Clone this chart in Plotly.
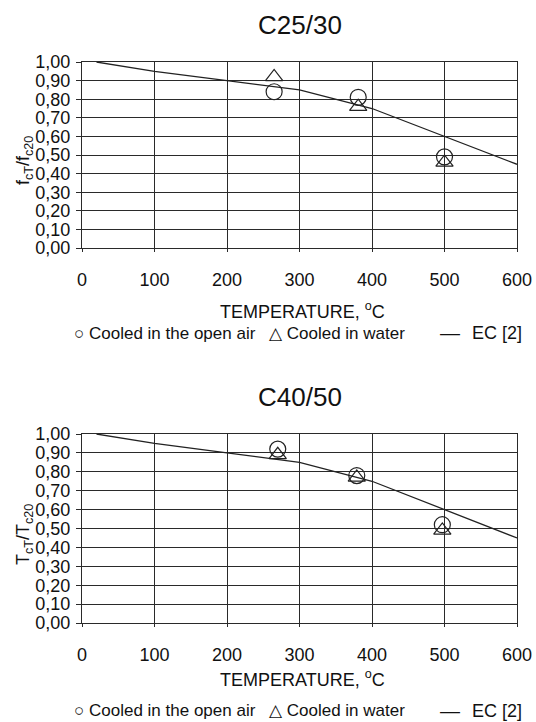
import plotly.graph_objects as go

# ---- data ----
ec_temp = [20, 100, 200, 300, 400, 500, 600]
ec_ratio = [1.00, 0.95, 0.90, 0.85, 0.75, 0.60, 0.45]

c25_air_temp = [265, 381, 500]
c25_air_ratio = [0.84, 0.81, 0.49]
c25_water_temp = [265, 381, 500]
c25_water_ratio = [0.92, 0.76, 0.46]

c40_air_temp = [270, 379, 497]
c40_air_ratio = [0.92, 0.78, 0.52]
c40_water_temp = [270, 379, 497]
c40_water_ratio = [0.89, 0.77, 0.49]

x_ticks = [0, 100, 200, 300, 400, 500, 600]
y_ticks = [0.0, 0.1, 0.2, 0.3, 0.4, 0.5, 0.6, 0.7, 0.8, 0.9, 1.0]

titles = ["C25/30", "C40/50"]
y_titles = ["f<sub>cT</sub>/f<sub>c20</sub>", "T<sub>cT</sub>/T<sub>c20</sub>"]
x_title = "TEMPERATURE, <sup>o</sup>C"
legend_items = ["○ Cooled in the open air", "△ Cooled in water", "—", "EC [2]"]

# ---- geometry (pixels) ----
W, H = 536, 722
L, R, T, B = 82, 517, 62, 623
FONT = "Liberation Sans, Arial, sans-serif"

def px(xp):
    return (xp - L) / (R - L)

def py(yp):
    return (B - yp) / (B - T)

top_dom = [py(248), 1.0]
bot_dom = [0.0, py(434)]

fig = go.Figure()

def add_panel(xa, ya, air_t, air_r, wat_t, wat_r):
    fig.add_trace(go.Scatter(x=ec_temp, y=ec_ratio, mode="lines",
                             line=dict(color="#222", width=1.3),
                             xaxis=xa, yaxis=ya, showlegend=False))
    fig.add_trace(go.Scatter(x=air_t, y=air_r, mode="markers",
                             marker=dict(symbol="circle-open", size=16, color="#222",
                                         line=dict(width=1.2)),
                             xaxis=xa, yaxis=ya, showlegend=False))
    fig.add_trace(go.Scatter(x=wat_t, y=wat_r, mode="markers",
                             marker=dict(symbol="triangle-up-open", size=15, color="#222",
                                         line=dict(width=1.2)),
                             xaxis=xa, yaxis=ya, showlegend=False))

add_panel("x", "y", c25_air_temp, c25_air_ratio, c25_water_temp, c25_water_ratio)
add_panel("x2", "y2", c40_air_temp, c40_air_ratio, c40_water_temp, c40_water_ratio)

xcommon = dict(range=[0, 600], tickvals=x_ticks, showgrid=True, gridcolor="#2a2a2a",
               gridwidth=1.2, showline=True, linecolor="#2a2a2a", linewidth=1.3,
               mirror=True, ticks="outside", ticklen=3, tickcolor="#2a2a2a",
               tickfont=dict(family=FONT, size=18, color="#111"), zeroline=False,
               ticklabelstandoff=12, automargin=False, fixedrange=True)
ycommon = dict(range=[0, 1], tickvals=y_ticks, tickformat=".2f", showgrid=True,
               gridcolor="#2a2a2a", gridwidth=1.2, showline=True, linecolor="#2a2a2a",
               linewidth=1.3, mirror=True, ticks="outside", ticklen=5,
               tickcolor="#2a2a2a", tickfont=dict(family=FONT, size=18, color="#111"),
               ticklabelstandoff=2,
               zeroline=False, automargin=False, fixedrange=True)

fig.update_layout(
    width=W, height=H,
    template="none",
    margin=dict(l=L, r=W - R, t=T, b=H - B, pad=0),
    paper_bgcolor="white", plot_bgcolor="white",
    separators=", ",
    showlegend=False,
    xaxis=dict(domain=[0, 1], anchor="y", **xcommon),
    yaxis=dict(domain=top_dom, anchor="x", **ycommon),
    xaxis2=dict(domain=[0, 1], anchor="y2", **xcommon),
    yaxis2=dict(domain=bot_dom, anchor="x2", **ycommon),
)

ann = []
def text(s, xp, yp, size, xanchor="center", angle=0):
    ann.append(dict(text=s, x=px(xp), y=py(yp), xref="paper", yref="paper",
                    xanchor=xanchor, yanchor="middle", showarrow=False,
                    textangle=angle, font=dict(family=FONT, size=size, color="#111")))

text(titles[0], 300, 25, 26)
text(titles[1], 300, 397, 26)
text(x_title, 302, 310, 18)
text(x_title, 302, 678, 18)
text(y_titles[0], 24, 161, 18, angle=-90)
text(y_titles[1], 24, 535, 18, angle=-90)
for yl in (333, 711):
    text(legend_items[0], 72, yl, 17, xanchor="left")
    text(legend_items[1], 267, yl, 17, xanchor="left")
    text(legend_items[2], 438, yl, 20, xanchor="left")
    text(legend_items[3], 470, yl, 18, xanchor="left")
fig.update_layout(annotations=ann)

fig.write_html("out.html",
               config={"displayModeBar": False},
               post_script="document.body.style.margin='0px';"
                           "document.body.style.overflow='hidden';")
